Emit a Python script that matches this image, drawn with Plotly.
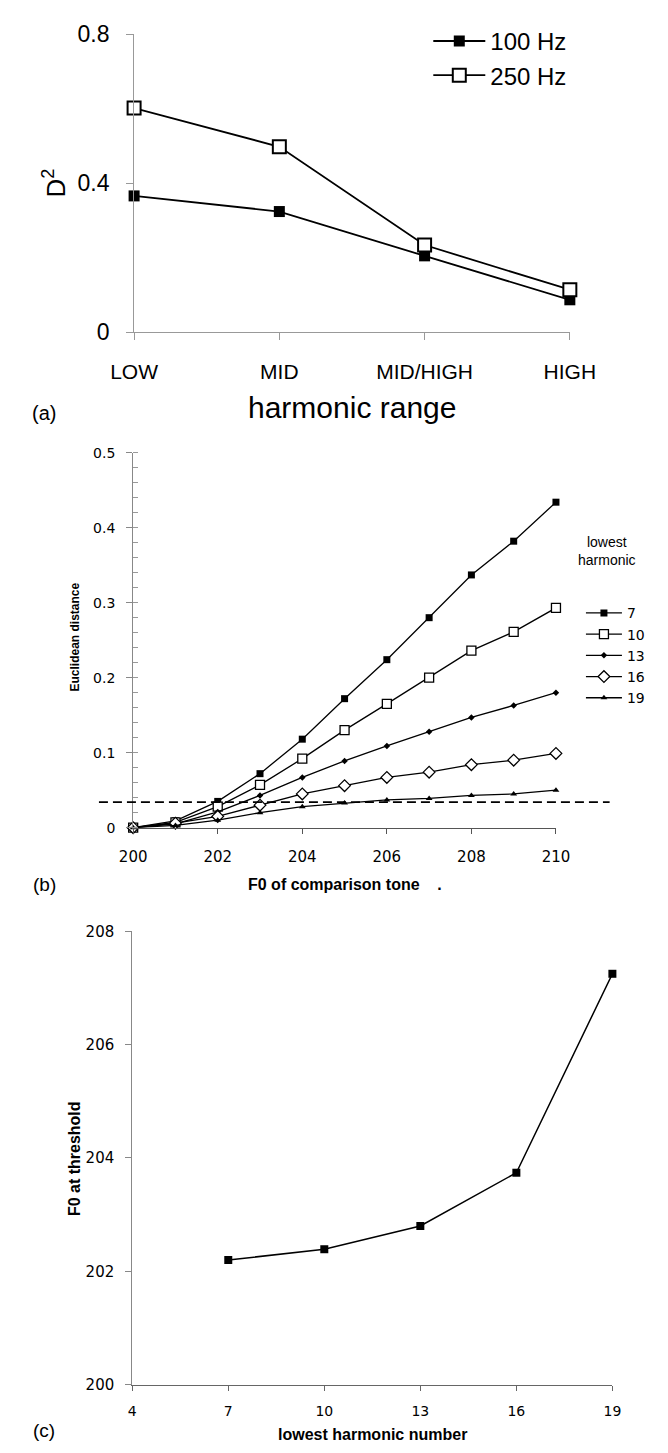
import plotly.graph_objects as go

W, H = 668, 1453

# ---------------- data ----------------
# panel (a)
ranges_a = ["LOW", "MID", "MID/HIGH", "HIGH"]
d2_100hz = [0.366, 0.324, 0.205, 0.087]
d2_250hz = [0.602, 0.498, 0.234, 0.114]

# panel (b)
f0_comparison = [200, 201, 202, 203, 204, 205, 206, 207, 208, 209, 210]
dist_h7 = [0, 0.009, 0.035, 0.072, 0.118, 0.172, 0.224, 0.280, 0.337, 0.382, 0.434]
dist_h10 = [0, 0.007, 0.028, 0.057, 0.092, 0.130, 0.165, 0.200, 0.236, 0.261, 0.293]
dist_h13 = [0, 0.005, 0.021, 0.043, 0.067, 0.089, 0.109, 0.128, 0.147, 0.163, 0.180]
dist_h16 = [0, 0.006, 0.015, 0.030, 0.045, 0.056, 0.067, 0.074, 0.084, 0.090, 0.099]
dist_h19 = [0, 0.003, 0.010, 0.020, 0.028, 0.033, 0.037, 0.039, 0.043, 0.045, 0.050]
threshold = 0.034

# panel (c)
lowest_harmonic = [7, 10, 13, 16, 19]
f0_threshold = [202.20, 202.39, 202.80, 203.74, 207.25]


def px(x):
    return x / W


def py(y):
    return 1 - y / H


ARIAL = "Liberation Sans, Arial, sans-serif"
DEJAVU = "DejaVu Sans, sans-serif"

fig = go.Figure()

# ---------------- panel (a) ----------------
fig.add_trace(go.Scatter(
    x=ranges_a, y=d2_100hz, name="100 Hz", mode="lines+markers",
    line=dict(color="black", width=1.8),
    marker=dict(symbol="square", size=11, color="black"),
    xaxis="x", yaxis="y", legend="legend", legendgroup="a1", cliponaxis=False))
fig.add_trace(go.Scatter(
    x=ranges_a, y=d2_250hz, name="250 Hz", mode="lines+markers",
    line=dict(color="black", width=1.8),
    marker=dict(symbol="square", size=13, color="white",
                line=dict(color="black", width=2)),
    xaxis="x", yaxis="y", legend="legend", legendgroup="a2", cliponaxis=False))

# ---------------- panel (b) ----------------
series_b = [
    ("7", dist_h7, dict(symbol="square", size=7, color="black")),
    ("10", dist_h10, dict(symbol="square", size=9, color="white",
                          line=dict(color="black", width=1.3))),
    ("13", dist_h13, dict(symbol="diamond", size=5, color="black")),
    ("16", dist_h16, dict(symbol="diamond", size=9, color="white",
                          line=dict(color="black", width=1.3))),
    ("19", dist_h19, dict(symbol="triangle-up", size=6, color="black")),
]
for name, vals, mk in series_b:
    fig.add_trace(go.Scatter(
        x=f0_comparison, y=vals, name=name, mode="lines+markers",
        line=dict(color="black", width=1.3), marker=mk,
        xaxis="x2", yaxis="y2", legend="legend2", legendgroup="b" + name,
        cliponaxis=False))

# ---------------- panel (c) ----------------
fig.add_trace(go.Scatter(
    x=lowest_harmonic, y=f0_threshold, mode="lines+markers", showlegend=False,
    line=dict(color="black", width=1.5),
    marker=dict(symbol="square", size=8, color="black"),
    xaxis="x3", yaxis="y3", cliponaxis=False))

fig.add_shape(type="line", xref="paper", yref="y2",
              x0=px(81), x1=px(633), y0=threshold, y1=threshold,
              line=dict(color="black", width=1.6, dash="9px,5px"))

# ---------------- axes ----------------
fig.update_layout(
    xaxis=dict(domain=[px(119), px(590)], type="category", range=[0, 3],
               anchor="y", showline=True, linecolor="#999", linewidth=1,
               ticks="outside", ticklen=7, tickcolor="#999",
               ticklabelstandoff=14,
               tickfont=dict(family=ARIAL, size=21, color="black"),
               showgrid=False, zeroline=False),
    yaxis=dict(domain=[py(325), py(21.7)], range=[0, 0.8], anchor="x",
               tickvals=[0, 0.4, 0.8], ticktext=["0", "0.4", "0.8"],
               showline=True, linecolor="#999", linewidth=1,
               ticks="outside", ticklen=7, tickcolor="#999",
               ticklabelstandoff=12,
               tickfont=dict(family=ARIAL, size=23, color="black"),
               showgrid=False, zeroline=False),
    xaxis2=dict(domain=[px(118), px(575)], range=[200, 210], anchor="y2",
                tickvals=[200, 202, 204, 206, 208, 210],
                showline=True, linecolor="#555", linewidth=1,
                ticks="outside", ticklen=5, tickcolor="#555",
                ticklabelstandoff=10,
                tickfont=dict(family=DEJAVU, size=15, color="black"),
                showgrid=False, zeroline=False),
    yaxis2=dict(domain=[py(829.5), py(447.7)], range=[0, 0.5], anchor="x2",
                tickvals=[0, 0.1, 0.2, 0.3, 0.4, 0.5],
                ticktext=["0", "0.1", "0.2", "0.3", "0.4", "0.5"],
                showline=True, linecolor="#888", linewidth=1,
                ticks="outside", ticklen=6, tickcolor="#888",
                minor=dict(dtick=0.02, tick0=0, ticks="inside", ticklen=5,
                           tickcolor="#999", showgrid=False),
                ticklabelstandoff=8,
                tickfont=dict(family=DEJAVU, size=14, color="black"),
                showgrid=False, zeroline=False),
    xaxis3=dict(domain=[px(117), px(636)], range=[4, 19], anchor="y3",
                tickvals=[4, 7, 10, 13, 16, 19],
                showline=True, linecolor="#666", linewidth=1,
                ticks="outside", ticklen=5, tickcolor="#666",
                ticklabelstandoff=8,
                tickfont=dict(family=DEJAVU, size=14, color="black"),
                showgrid=False, zeroline=False),
    yaxis3=dict(domain=[py(1396.7), py(935)], range=[200, 208], anchor="x3",
                tickvals=[200, 202, 204, 206, 208],
                showline=True, linecolor="#888", linewidth=1,
                ticks="outside", ticklen=6, tickcolor="#888",
                ticklabelstandoff=8,
                tickfont=dict(family=DEJAVU, size=15, color="black"),
                showgrid=False, zeroline=False),
)

# ---------------- legends ----------------
fig.update_layout(
    legend=dict(x=px(437), y=py(6), xanchor="left", yanchor="top",
                font=dict(family=ARIAL, size=24, color="black"),
                itemwidth=52, tracegroupgap=9, bgcolor="rgba(0,0,0,0)",
                traceorder="normal"),
    legend2=dict(x=px(602), y=py(595), xanchor="left", yanchor="top",
                 font=dict(family=DEJAVU, size=14, color="black"),
                 itemwidth=36, tracegroupgap=2, bgcolor="rgba(0,0,0,0)",
                 traceorder="normal"),
)

# ---------------- text ----------------
annots = [
    dict(text="D<sup>2</sup>", x=px(33), y=py(173), textangle=-90,
         font=dict(family=ARIAL, size=26)),
    dict(text="harmonic range", x=px(354.5), y=py(402),
         font=dict(family=ARIAL, size=30)),
    dict(text="(a)", x=px(22), y=py(407), font=dict(family=ARIAL, size=20)),
    dict(text="<b>Euclidean distance</b>", x=px(55), y=py(635), textangle=-90,
         font=dict(family=ARIAL, size=12)),
    dict(text="<b>F0 of comparison tone\u00a0\u00a0\u00a0\u00a0.</b>",
         x=px(346.5), y=py(887), font=dict(family=ARIAL, size=16)),
    dict(text="lowest<br>harmonic", x=px(630), y=py(548),
         font=dict(family=ARIAL, size=14)),
    dict(text="(b)", x=px(22), y=py(887), font=dict(family=ARIAL, size=19)),
    dict(text="<b>F0 at threshold</b>", x=px(54), y=py(1166), textangle=-90,
         font=dict(family=ARIAL, size=16)),
    dict(text="<b>lowest harmonic number</b>", x=px(376.5), y=py(1447),
         font=dict(family=ARIAL, size=16)),
    dict(text="(c)", x=px(22), y=py(1443), font=dict(family=ARIAL, size=19)),
]
for a in annots:
    a.update(xref="paper", yref="paper", showarrow=False,
             xanchor="center", yanchor="middle")
    a["font"].setdefault("color", "black")
fig.update_layout(annotations=annots)

fig.update_layout(width=W, height=H, margin=dict(l=0, r=0, t=0, b=0),
                  paper_bgcolor="white", plot_bgcolor="white")

fig.write_html("out.html")
